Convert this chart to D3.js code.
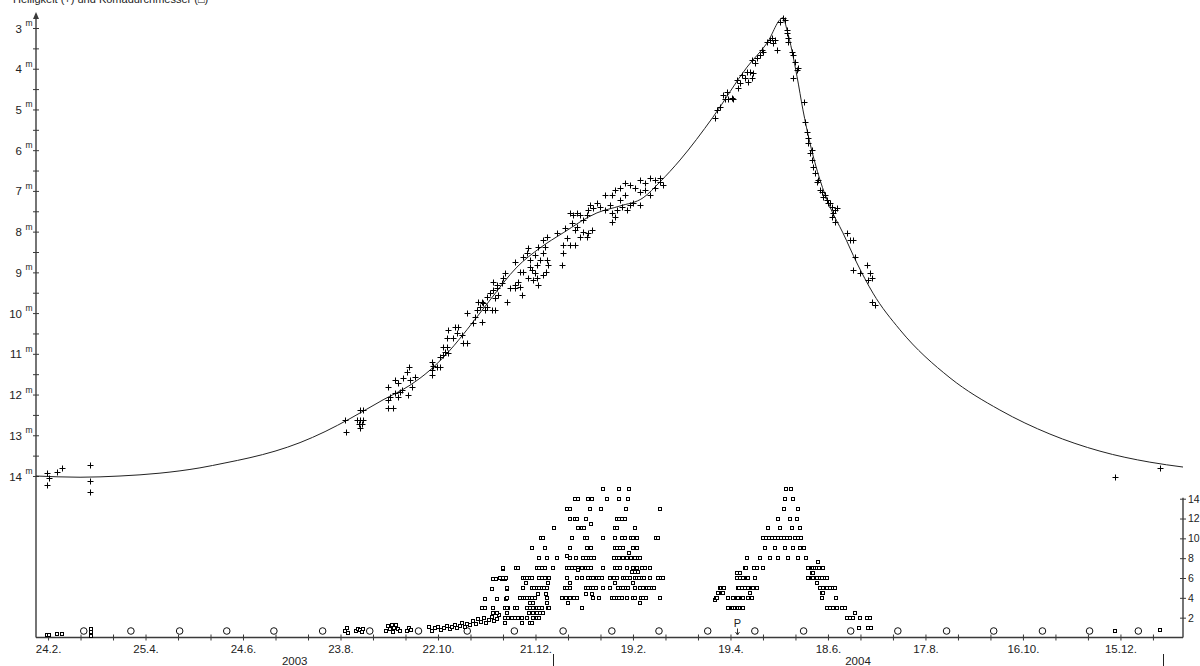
<!DOCTYPE html>
<html lang="de">
<head>
<meta charset="UTF-8">
<title>Helligkeit und Komadurchmesser</title>
<style>
  body { margin: 0; background: #fff; }
  svg { display: block; font-family: "Liberation Sans", Arial, sans-serif; }
</style>
</head>
<body>
<svg id="chart" width="1200" height="666"></svg>
<script src="https://d3js.org/d3.v7.min.js"></script>
<script>
// time is counted in days from 1 Jan 2003 (UTC)
const magObs = [
  [53.4,13.93],[53.4,14.22],[54.6,14.05],[59.5,13.90],[62.6,13.80],[79.9,13.73],[79.9,14.12],[79.9,14.39],
  [237,12.62],[237.4,12.92],[244.2,12.62],[246,12.62],[247.9,12.62],[245.4,12.72],[247.2,12.72],[246,12.82],[246,12.38],[247.9,12.38],
  [263.2,11.81],[267.5,11.64],[269.4,11.72],[272.5,11.59],[276.2,11.32],[275,11.45],[276.8,11.64],[278,11.81],[279.9,11.57],
  [263.2,12.13],[264.5,12.06],[267.5,11.96],[269.4,12.06],[270.6,11.94],[271.9,11.89],[263.2,12.33],[266.3,12.33],[275.5,12.01],
  [290.3,11.20],[290.9,11.30],[293.4,11.32],[295.2,11.32],[290.3,11.40],[290.3,11.52],[295.2,11.08],[297.1,11.03],[297.1,10.83],[299.5,10.83],[300.2,10.98],[298.3,10.95],
  [300.2,10.41],[304.5,10.34],[306.3,10.34],[299.5,10.61],[303.2,10.61],[305.7,10.49],[308.8,10.54],[309.4,10.73],[311.9,10.73],
  [311.9,10.00],[316.8,10.10],[318,9.92],[319.9,9.85],[321.7,9.75],[322.9,9.92],[324.2,9.85],[318.6,9.73],[321.1,9.73],[315.5,10.24],[321.1,10.22],[327.2,9.92],[329.1,9.92],
  [324.2,9.60],[326,9.51],[327.9,9.43],[330.3,9.38],[331,9.56],[329.1,9.63],[327.9,9.24],[330.3,9.31],[333.4,9.26],[334,9.14],[335.2,9.02],[336.5,9.73],[338.3,9.38],[341.4,9.38],[344.5,9.36],[343.2,9.24],[345.7,9.56],[341.4,9.31],
  [341.4,8.74],[346.3,8.62],[348.8,8.52],[350.6,8.70],[350.6,8.87],[351.9,8.94],[353.7,9.02],[355,9.14],[355.6,9.31],[352.5,9.19],[349.4,9.14],[346.3,8.99],[344.5,8.99],[355,8.82],[356.8,8.70],[358.6,8.52],[359.9,8.38],[361.1,8.70],[361.7,8.82],[358.6,8.21],[361.1,8.13],[355.6,8.38],[353.7,8.57],[349.4,8.40],[358.6,9.06],[360.5,8.99],
  [367.2,8.03],[371,8.52],[370.3,8.82],[371,8.33],[375.2,8.33],[378.3,8.33],[373.4,8.16],[375.2,7.54],[377.1,7.59],[379.6,7.54],[381.4,7.59],[383.2,7.71],[385.7,7.59],[386.3,7.47],[387.5,7.35],[389.4,7.42],[391.9,7.30],[393.7,7.39],[376.5,7.79],[379.6,7.89],[383.2,8.01],[386.3,8.03],[388.8,7.96],[385.7,8.13],[378.3,7.96],[381.4,8.13],[372.2,7.91],
  [401.1,7.54],[402.9,7.64],[404.2,7.47],[407.2,7.39],[410.3,7.47],[412.2,7.35],[414,7.30],[418.3,7.35],[401.1,7.76],
  [401.1,7.10],[406,6.93],[409.1,6.81],[412.2,6.85],[418.3,6.73],[421.4,6.81],[424.5,6.68],[427.5,6.73],[430.6,6.68],[432.5,6.85],[418.3,7.03],[424.5,7.10],[406,7.22],[399.9,7.35],[396.8,7.47],[430.6,6.78],[396.8,7.10],[402.9,6.98],[409.1,7.10],[415.3,6.93],[421.4,6.98],[427.5,6.93],
  [464.5,5.21],[465.7,5.01],[467.6,4.94],[469.4,4.64],[471.9,4.57],[475,4.72],[470.6,4.74],[472.5,4.74],[475.6,4.74],
  [478.6,4.47],[479.9,4.35],[478,4.28],[481.1,4.15],[484.2,4.08],[486,4.08],[487.2,4.23],[487.9,4.10],[482.9,4.23],[484.8,4.33],
  [487.2,3.79],[489.1,3.86],[490.3,3.74],[492.2,3.66],[494,3.59],[493.4,3.54],
  [496.5,3.34],[498.3,3.29],[500.2,3.37],[502.6,3.54],[501.4,3.29],[499.6,3.25],
  [504.5,2.85],[506.3,2.75],[507.5,2.80],
  [508.8,3.05],[509.4,3.25],[508.8,3.12],[509.4,3.34],[511.9,3.59],[512.5,3.66],[513.7,3.84],[515,4.03],[512.5,4.23],[515.6,3.98],[519.2,4.82],[519.9,5.31],[521.1,5.55],[521.7,5.70],[521.7,5.82],[523,6.07],[524.2,5.99],[524.2,6.24],[524.8,6.41],[526,6.56],[527.2,6.78],[527.9,6.73],[529.1,6.98],[530.3,7.03],[530.9,7.15],[532.2,7.10],[533.4,7.22],[534,7.30],[535.2,7.30],[536.5,7.39],[537.1,7.54],[538.3,7.47],[539.6,7.42],[536.5,7.64],[538.3,7.76],
  [545.7,8.03],[547.6,8.21],[549.4,8.21],[550.6,8.62],[549.4,8.94],[553.7,9.02],[558,8.82],[559.9,9.02],[561.1,9.14],[558.6,9.19],[561.1,9.73],[563,9.80],
  [710.6,14.02],[738.3,13.80]
];

// fitted light curve
const magCurve = [
  [46.6,14.00],[73.7,14.03],[98.3,14.00],[122.9,13.93],[147.5,13.80],[162.9,13.68],[178.3,13.55],[193.7,13.39],
  [209.1,13.18],[224.5,12.91],[239.9,12.59],[260.2,12.13],[276.8,11.77],[289.1,11.40],[301.4,10.91],[311.8,10.41],[326,9.68],[342.6,8.87],
  [356.8,8.40],[371,8.03],[391.8,7.54],[406,7.37],[420.2,7.17],[430.6,6.78],[443,6.24],[463.2,5.19],[484.2,3.96],
  [496.5,3.37],[506.3,2.75],[508.8,3.05],[515,4.20],[518.6,5.01],[522.9,5.82],[529.1,6.73],[535.2,7.39],[543.2,8.03],
  [551.8,8.77],[561.7,9.51],[578.3,10.41],[609.1,11.59],[639.8,12.38],[670.6,12.97],[701.4,13.39],[732.1,13.66],[752.5,13.78]
];

// coma diameter (right axis)
const comaObs = [
  [53.4,0.3],[54.6,0.3],[59.5,0.4],[62.6,0.4],[80.5,0.9],[80.5,0.6],[80.5,0.2],
  [236.8,0.7],[238,1.0],[238.6,0.5],[243.6,0.7],[244.8,0.9],[246,0.8],[247.2,0.6],[247.9,0.9],
  [262,0.7],[263.2,1.2],[264.5,0.9],[265.7,1.3],[267,1.0],[268.2,1.3],[269.4,0.9],[270.6,0.7],[266.3,0.6],
  [275,0.7],[276.2,1.0],[277.4,0.8],
  [288.5,1.1],[290.3,0.7],[292.2,1.0],[294,1.1],[295.9,0.8],[297.7,1.0],[299.5,1.2],[301.4,0.9],[302.6,1.1],[304.5,1.3],[305.7,1.0],[307.5,1.2],[308.8,1.5],[310.6,1.1],[311.9,1.4],
  [313.7,1.3],[315.5,1.7],[317.4,1.4],[318.6,1.9],[320.5,1.6],[322.3,2.0],[323.6,1.5],[325.4,1.8],[327.2,2.1],[328.5,1.7],[330.3,1.9],[331.6,2.3],
  [323,3.9],[321.1,3.0],[323,3.0],[327.9,3.0],[327.9,2.5],[330.3,2.5],[330.3,3.9],[327.2,4.9],[327.9,5.9],[329.7,5.9],[334,6.9],[333.4,5.9],[335.2,5.9],[335.9,3.9],[336.5,4.9],[335.2,3.0],[337.1,3.0],
  [395.6,15],[405.4,15],[411.6,15],
  [378.3,14],[380.2,14],[386.3,14],[388.8,14],[398,14],[405.4,14],[410.9,14],
  [373.4,13],[375.2,13],[387.5,13],[394.3,13],[409.7,13],[430.6,13],
  [375.2,12],[378.3,12],[379.6,12],[385.1,12],[404.2,12],[405.4,12],[407.2,12],[409.1,12],[388.2,11.4],
  [365.4,11],[380.2,11],[382.6,11],[383.9,11],[402.9,11],[404.2,11],[415.3,11],
  [357.4,10],[358.6,10],[376.5,10],[384.5,10],[385.7,10],[395.6,10],[402.9,10],[407.2,10],[409.1,10],[412.8,10],[414,10],[416.5,10],[428.2,10],[429.4,10],
  [351.9,9],[359.9,9],[375.2,9],[385.7,9],[388.2,9],[402.9,9],[404.2,9],[406,9],[407.9,9],[414,9],[416.5,9],[411.6,8.5],
  [356.2,8],[361.1,8],[367.2,8],[373.4,8.2],[375.2,8],[378.9,8],[383.2,8],[385.1,8],[387,8],[388.2,8],[390,8],[402.3,8],[404.2,8],[405.4,8],[407.9,8],[410.3,8],[412.8,8],[415.3,8],[417.1,8],[418.3,8],
  [334,7],[342,7],[343.2,7],[355,7],[356.2,7],[358,7],[359.9,7],[364.8,7],[373.4,7],[374.6,7],[376.5,7],[378.3,7],[380.2,7],[382.6,7],[385.1,7],[386.3,7],[388.2,7],[395.6,7],[402.9,7],[404.2,7],[406,7],[410.3,7],[414,7],[416.5,7],[419.6,7],[421.4,7],[424.5,7],[380.2,6.8],[413.4,6.6],[415.3,6.6],[417.1,6.6],
  [332.2,6],[334,6],[335.9,6],[346.3,6],[347.5,6],[348.8,6],[350.6,6],[351.9,6],[356.2,6],[358,6],[359.9,6],[362.3,6],[373.4,6],[379.6,6],[382.6,6],[386.3,6],[388.2,6],[389.4,6],[391.9,6],[393.1,6],[394.9,6],[399.9,6],[402.3,6],[404.2,6],[407.9,6],[409.1,6],[410.3,6],[412.2,6],[415.3,6],[416.5,6],[417.7,6],[419.6,6],[420.8,6],[424.5,6],[429.4,6],[431.2,6],[432.5,6],
  [348.2,5.5],[361.7,5.5],[375.2,5.5],[402.9,5.5],[414,5.5],
  [336.5,5],[346.3,5],[351.9,5],[353.1,5],[355,5],[356.2,5],[358,5],[359.2,5],[361.1,5],[372.2,5],[373.4,5],[375.2,5],[385.1,5],[386.3,5],[388.2,5],[389.4,5],[391.2,5],[395.6,5],[399.9,5],[404.8,5],[406.6,5],[407.9,5],[409.7,5],[410.9,5],[415.3,5],[418.3,5],[420.2,5],[422.6,5],[423.9,5],[425.7,5],[426.9,5],
  [355.6,4.4],[360.5,4.4],[385.1,4.4],[388.8,4.4],
  [336.5,4],[344.5,4],[346.3,4],[347.5,4],[348.8,4],[350.6,4],[351.9,4],[353.7,4],[361.1,4],[370.3,4],[372.8,4],[375.2,4],[377.7,4],[379.6,4],[389.4,4],[393.1,4],[401.1,4],[402.3,4],[404.2,4],[405.4,4],[407.2,4],[410.3,4],[414,4],[415.3,4],[419,4],[420.2,4],[422,4],[430.6,4],
  [350.6,3.5],[352.5,3.5],[361.1,3.5],[374,3.5],[418.3,3.5],
  [336.5,3],[341.4,3],[342.6,3],[348.8,3],[350.6,3],[352.5,3],[355,3],[356.2,3],[358,3],[361.7,3],[382.6,3],[362.3,3],
  [336.5,2.5],[350,2.5],[352.5,2.5],[355,2.5],[356.8,2.5],[358.6,2.5],
  [335.2,2],[337.1,2],[339.6,2],[341.4,2],[343.2,2],[345.7,2],[348.8,2],[352.5,2],[355,2],[356.2,2],
  [335.2,1.5],[345.7,1.5],[350.6,1.5],[351.9,1.5],
  [472.5,3],[475,3],[475.6,3],[476.8,3],[478,3],[478.6,3],[479.9,3],[481.1,3],[481.7,3],
  [464.5,3.8],[465.1,4],[465.7,4],[472.5,4],[475.6,4],[478,4],[478.6,4],[481.1,4],[481.7,4],[484.8,4],[487.2,4],
  [466.3,4.5],[468.8,4.5],[469.4,4.5],[486,4.5],
  [467.6,5],[468.2,5],[469.4,5],[470,5],[478.6,5],[479.2,5],[481.1,5],[483,5],[484.8,5],[487.2,5],[487.9,5],[490.3,5],
  [478,6],[479.9,6],[481.7,6],[484.2,6],[484.8,6],[478,6.5],[479.9,6.5],
  [483,7],[483.6,7],[488.5,7],[494,7],[484.2,8],
  [508.2,15],[511.2,15],[507.5,14],[512.5,14],[506.9,13],[515.6,13],[503.2,12],[510.6,12],[515,12],
  [497.1,11],[504.5,11],[511.9,11],[516.8,11],
  [494,10],[495.9,10],[497.7,10],[499.6,10],[501.4,10],[503.2,10],[505.1,10],[506.9,10],[508.8,10],[510.6,10],[513.7,10],[515.6,10],[517.4,10],
  [495.2,9],[501.4,9],[507.5,9],[512.5,9],[516.8,9],[519.2,9],
  [492.2,8],[498.3,8],[503.2,8],[509.4,8],[515.6,8],[520.5,8],
  [527.9,7.6],[490.3,7],[521.7,7],[524.2,7],[524.8,7],[526,7],[527.2,7],[528.5,7],[530.3,7],[530.9,7],
  [524.2,6.5],[524.8,6.5],
  [489.1,6],[521.7,6],[524.2,6],[524.8,6],[527.2,6],[529.1,6],[530.3,6],[532.2,6],[533.4,6],
  [527.2,5.5],
  [529.1,5],[530.9,5],[533.4,5],[535.2,5],[537.1,5],[538.3,5],
  [530.3,4.5],[530.9,4.5],[530.3,4],[539,4],
  [533.4,3],[535.2,3],[537.1,3],[539.6,3],[542.6,3],[544.5,3],
  [550.6,2.5],[545.7,2],[547.6,2],[549.4,2],[553.7,2],[558,2],[559.9,2],
  [553.1,1],[558.6,1],[560.5,1],
  [710.6,0.65],[738.3,0.75]
];

const fullMoons = ['2003-03-18','2003-04-16','2003-05-16','2003-06-14','2003-07-13','2003-08-12','2003-09-10',
  '2003-10-10','2003-11-09','2003-12-08','2004-01-07','2004-02-06','2004-03-06','2004-04-05','2004-05-04',
  '2004-06-03','2004-07-02','2004-07-31','2004-08-30','2004-09-28','2004-10-28','2004-11-26','2004-12-26'];
const perihelion = '2004-04-23';
const magTicks = d3.range(3, 15);
const comaTicks = [2, 4, 6, 8, 10, 12, 14];
const yearLabels = ['2003', '2004'];
const yearMarks = ['2004-01-01', '2005-01-10'];
const title = 'Helligkeit (+) und Komadurchmesser (\u25A1)';

const T0 = Date.UTC(2003, 0, 1);
const day = t => new Date(T0 + t * 864e5);

const svg = d3.select('#chart');

const x = d3.scaleUtc().domain([day(46.6), day(752.5)]).range([36, 1183]);
const yMag = d3.scaleLinear().domain([3, 14]).range([28, 476]);
const yComa = d3.scaleLinear().domain([0, 14]).range([637.5, 498.7]);

const axisColor = '#3a3a3a';
const fmt = d3.utcFormat('%-d.%-m.');

// title (cut by the top edge as in the original)
svg.append('text').attr('x', 13).attr('y', 2.5)
  .attr('font-size', 11).attr('fill', '#222').text(title);

// bottom axis: a tick every 20 days, a label every 60
const tickStart = new Date('2003-02-24');
const xTicks = d3.range(0, 40).map(i => d3.utcDay.offset(tickStart, i * 20))
  .filter(d => d <= x.domain()[1]);

const gx = svg.append('g').attr('transform', 'translate(0,637.5)')
  .call(d3.axisBottom(x).tickValues(xTicks).tickSize(3).tickSizeOuter(0).tickPadding(4)
    .tickFormat((d, i) => i % 3 === 0 ? fmt(d) : ''));
gx.select('.domain').remove();
gx.selectAll('.tick line').attr('y1', -3).attr('y2', 3).attr('stroke', axisColor);
gx.selectAll('.tick text').attr('font-size', 11.5).attr('font-family', 'Liberation Sans, Arial, sans-serif').attr('fill', '#222');
svg.append('line').attr('x1', 36).attr('x2', 1183).attr('y1', 637.5).attr('y2', 637.5)
  .attr('stroke', axisColor).attr('stroke-width', 1.4);

// year marks and labels
const markX = yearMarks.map(d => x(new Date(d)));
svg.selectAll('.ymark').data(markX).join('line').attr('class', 'ymark')
  .attr('x1', d => Math.round(d) + 0.5).attr('x2', d => Math.round(d) + 0.5)
  .attr('y1', 654).attr('y2', 666).attr('stroke', '#222');
const labelX = [(36 + markX[0]) / 2, (markX[0] + markX[1]) / 2];
svg.selectAll('.ylabel').data(yearLabels).join('text').attr('class', 'ylabel')
  .attr('x', (d, i) => labelX[i]).attr('y', 665).attr('text-anchor', 'middle')
  .attr('font-size', 11.5).attr('fill', '#222').text(d => d);

// left axis (magnitude)
const gy = svg.append('g').attr('transform', 'translate(36,0)')
  .call(d3.axisLeft(yMag).tickValues(d3.range(3, 14.01, 0.5)).tickSize(3).tickSizeOuter(0).tickFormat(''));
gy.select('.domain').remove();
gy.selectAll('.tick line').attr('x1', 3).attr('stroke', axisColor);
svg.append('line').attr('x1', 36).attr('x2', 36).attr('y1', 14).attr('y2', 637.5)
  .attr('stroke', axisColor).attr('stroke-width', 1.4);
svg.append('path').attr('d', 'M33,19L36,12L39,19Z').attr('fill', axisColor);

const magLab = svg.append('g').selectAll('g').data(magTicks).join('g')
  .attr('transform', d => `translate(0,${yMag(d)})`);
magLab.append('text').attr('x', 22).attr('y', 4.5).attr('text-anchor', 'end')
  .attr('font-size', 11.5).attr('fill', '#222').text(d => d);
magLab.append('text').attr('x', 25.5).attr('y', -2).attr('font-size', 8.5).attr('fill', '#222').text('m');

// right axis (coma diameter)
const gr = svg.append('g').attr('transform', 'translate(1183,0)')
  .call(d3.axisRight(yComa).tickValues(comaTicks).tickSize(3).tickSizeOuter(0).tickPadding(2));
gr.select('.domain').remove();
gr.selectAll('.tick line').attr('x1', -3).attr('stroke', axisColor);
gr.selectAll('.tick text').attr('font-size', 10.5).attr('font-family', 'Liberation Sans, Arial, sans-serif').attr('fill', '#222');
svg.append('line').attr('x1', 1183).attr('x2', 1183).attr('y1', yComa(14) - 1).attr('y2', 637.5)
  .attr('stroke', axisColor).attr('stroke-width', 1.4);

// light curve
const line = d3.line().x(d => x(day(d[0]))).y(d => yMag(d[1])).curve(d3.curveMonotoneX);
svg.append('path').datum(magCurve).attr('d', line)
  .attr('fill', 'none').attr('stroke', '#222').attr('stroke-width', 1);

// full moons
svg.append('g').selectAll('circle').data(fullMoons).join('circle')
  .attr('cx', d => x(new Date(d))).attr('cy', 631).attr('r', 3.3)
  .attr('fill', '#fff').attr('stroke', '#111').attr('stroke-width', 1);

// coma diameter markers
svg.append('g').selectAll('rect').data(comaObs).join('rect')
  .attr('x', d => Math.round(x(day(d[0]))) - 1.5)
  .attr('y', d => Math.round(yComa(d[1])) - 1.5)
  .attr('width', 3).attr('height', 3)
  .attr('fill', '#fff').attr('stroke', '#000').attr('stroke-width', 1);

// magnitude observations
svg.append('g').selectAll('path').data(magObs).join('path')
  .attr('transform', d => `translate(${Math.round(x(day(d[0]))) + 0.5},${Math.round(yMag(d[1])) + 0.5})`)
  .attr('d', 'M-3,0H3M0,-3V3')
  .attr('stroke', '#000').attr('stroke-width', 1).attr('fill', 'none');

// perihelion
const px = Math.round(x(new Date(perihelion))) + 0.5;
svg.append('text').attr('x', px).attr('y', 627).attr('text-anchor', 'middle')
  .attr('font-size', 11).attr('fill', '#222').text('P');
svg.append('line').attr('x1', px).attr('x2', px).attr('y1', 628.5).attr('y2', 634)
  .attr('stroke', '#333');
svg.append('path').attr('d', `M${px - 2},632L${px},635L${px + 2},632`).attr('fill', 'none').attr('stroke', '#333');
</script>
</body>
</html>
